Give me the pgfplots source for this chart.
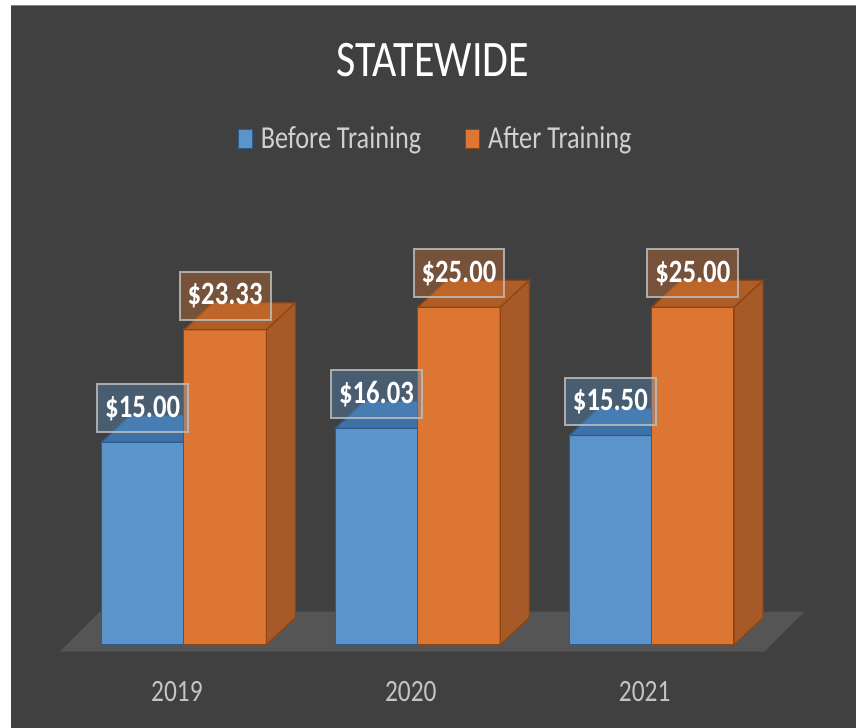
\documentclass[border=0pt]{standalone}
\usepackage{fontspec}
\setmainfont{Carlito}[FakeStretch=0.82]
\usepackage{pgfplots}
\pgfplotsset{compat=1.18}
\definecolor{bg}{HTML}{404040}
\definecolor{floorc}{HTML}{555555}
\definecolor{bluefront}{HTML}{5A94CB}
\definecolor{bluetop}{HTML}{3E72A6}
\definecolor{blueedge}{HTML}{2E5C8A}
\definecolor{orangefront}{HTML}{DC7632}
\definecolor{orangetop}{HTML}{AE5D27}
\definecolor{orangeside}{HTML}{A65A27}
\definecolor{orangeedge}{HTML}{8E4514}
\definecolor{legendgray}{HTML}{D0D0D0}
\definecolor{tickgray}{HTML}{C4C4C4}
\definecolor{boxedge}{HTML}{BCBCBC}
\tikzset{labelbox/.style={anchor=south, yshift=4.5pt, fill opacity=0.35, text opacity=1,
    draw=boxedge, draw opacity=0.85, line width=1pt, text=white,
    inner xsep=4pt, inner ysep=0pt, minimum height=24pt,
    font=\fontsize{16.3}{19}\selectfont\bfseries}}
\begin{document}
\begin{tikzpicture}
\begin{axis}[
  scale only axis, width=428pt, height=364pt,
  xmin=-0.78632, xmax=2.87179, ymin=-6.1481, ymax=47.7778,
  clip=false,
  axis background/.style={fill=bg},
  axis line style={draw=none},
  tick style={draw=none},
  ytick=\empty,
  xtick={0,1,2}, xticklabels={2019,2020,2021},
  xticklabel style={anchor=base, yshift=13pt, xshift=-3.5pt, font=\fontsize{15.5}{18}\selectfont, text=tickgray},
  /pgf/number format/assume math mode=true,
  legend columns=2,
  legend style={at={(axis cs:1.081,37.45)}, anchor=center, draw=none, fill=none,
    text=legendgray, font=\fontsize{16}{18}\selectfont,
    /tikz/every odd column/.append style={column sep=2pt},
    /tikz/every even column/.append style={column sep=20pt}},
]
% floor
\addplot[fill=floorc, draw=none, forget plot] coordinates {(-0.5299,-0.5185) (2.4829,-0.5185) (2.6538,2.4444) (-0.3590,2.4444)} -- cycle;
% blue fronts
\addplot[ybar, bar width=0.3526, bar shift=-0.1763, fill=bluefront, draw=blueedge, line width=0.6pt,
  legend image code/.code={\fill[bluefront, draw=blueedge, line width=0.5pt] (0pt,-4.5pt) rectangle (7pt,5pt);}]
  coordinates {(0,15) (1,16.03) (2,15.5)};
\addlegendentry{Before Training}
% blue tops
\addplot[fill=bluetop, draw=blueedge, line width=0.6pt, forget plot] coordinates {(-0.3526,15) (0,15) (0.124,17) (-0.2286,17)} -- cycle;
\addplot[fill=bluetop, draw=blueedge, line width=0.6pt, forget plot] coordinates {(0.6474,16.03) (1,16.03) (1.124,18.03) (0.7714,18.03)} -- cycle;
\addplot[fill=bluetop, draw=blueedge, line width=0.6pt, forget plot] coordinates {(1.6474,15.5) (2,15.5) (2.124,17.5) (1.7714,17.5)} -- cycle;
% orange fronts
\addplot[ybar, bar width=0.3526, bar shift=0.1763, fill=orangefront, draw=orangeedge, line width=0.6pt,
  legend image code/.code={\fill[orangefront, draw=orangeedge, line width=0.5pt] (0pt,-4.5pt) rectangle (7pt,5pt);}]
  coordinates {(0,23.33) (1,25) (2,25)};
\addlegendentry{After Training}
% orange tops
\addplot[fill=orangetop, draw=orangeedge, line width=0.6pt, forget plot] coordinates {(0,23.33) (0.3526,23.33) (0.4766,25.33) (0.124,25.33)} -- cycle;
\addplot[fill=orangetop, draw=orangeedge, line width=0.6pt, forget plot] coordinates {(1,25) (1.3526,25) (1.4766,27) (1.124,27)} -- cycle;
\addplot[fill=orangetop, draw=orangeedge, line width=0.6pt, forget plot] coordinates {(2,25) (2.3526,25) (2.4766,27) (2.124,27)} -- cycle;
% orange sides
\addplot[fill=orangeside, draw=orangeedge, line width=0.6pt, forget plot] coordinates {(0.3526,0) (0.3526,23.33) (0.4766,25.33) (0.4766,2)} -- cycle;
\addplot[fill=orangeside, draw=orangeedge, line width=0.6pt, forget plot] coordinates {(1.3526,0) (1.3526,25) (1.4766,27) (1.4766,2)} -- cycle;
\addplot[fill=orangeside, draw=orangeedge, line width=0.6pt, forget plot] coordinates {(2.3526,0) (2.3526,25) (2.4766,27) (2.4766,2)} -- cycle;
% labels
\addplot[draw=none, mark=none, forget plot,
  nodes near coords={\$\pgfmathprintnumber[fixed,fixed zerofill,precision=2]{\pgfplotspointmeta}},
  every node near coord/.append style={labelbox, fill=bluefront}]
  coordinates {(-0.1763,15) (0.8237,16.03) (1.8237,15.5)};
\addplot[draw=none, mark=none, forget plot,
  nodes near coords={\$\pgfmathprintnumber[fixed,fixed zerofill,precision=2]{\pgfplotspointmeta}},
  every node near coord/.append style={labelbox, fill=orangefront}]
  coordinates {(0.1763,23.33) (1.1763,25) (2.1763,25)};
% title
\node[anchor=base, text=white, font=\fontsize{25.6}{30}\selectfont] at (axis cs:1.0641,42.07) {STATEWIDE};
% white margins
\fill[white] (rel axis cs:0,0) rectangle (rel axis cs:0.01285,1);
\fill[white] (rel axis cs:0,0.99313) rectangle (rel axis cs:1,1);
\draw[gray, line width=0.5pt] (rel axis cs:0.01285,0.9925) -- (rel axis cs:1,0.9925);
\end{axis}
\end{tikzpicture}
\end{document}
